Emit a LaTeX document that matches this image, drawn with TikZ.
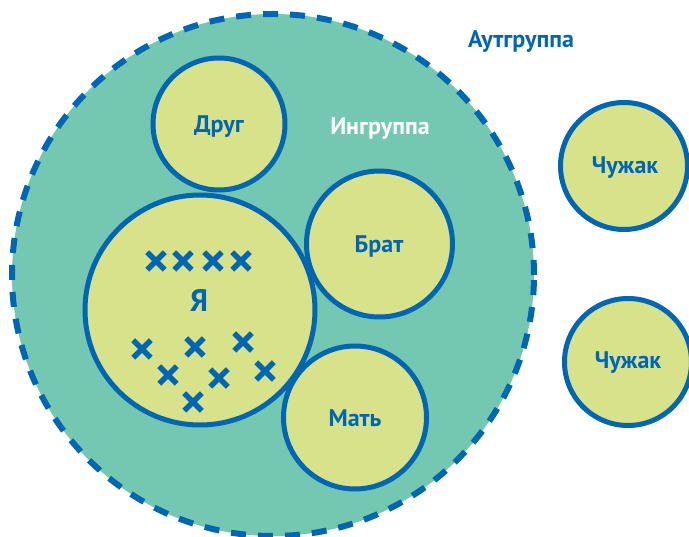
\documentclass[tikz,border=0pt]{standalone}
\usepackage{fontspec}
\setmainfont{PT Sans}
\usetikzlibrary{shapes.misc}
\definecolor{teal}{HTML}{74C8B1}
\definecolor{lgreen}{HTML}{D7E28B}
\definecolor{dblue}{HTML}{0066B2}
\tikzset{
  bubble/.style={circle, draw=dblue, fill=lgreen, line width=5pt, inner sep=0pt},
  lbl/.style={font=\bfseries\fontsize{24}{26}\selectfont, text=dblue},
  xmark/.style={cross out, draw=dblue, line width=5.5pt, minimum size=12pt, inner sep=0pt},
}
\begin{document}
\begin{tikzpicture}[x=1pt,y=-1pt]
\useasboundingbox (0,0) rectangle (689,537);
\begin{scope}
\clip (0,0) rectangle (689,537);
\node[circle, draw=dblue, fill=teal, line width=6pt, dash pattern=on 15pt off 12pt, minimum size=522pt, inner sep=0pt] (out) at (273,275) {};
\node[bubble, minimum size=132pt] (drug) at (219,124) {};
\node[bubble, minimum size=146pt] (brat) at (379.5,244) {};
\node[bubble, minimum size=230pt] (ya) at (200,310) {};
\node[bubble, minimum size=143pt] (mat) at (355,417.5) {};
\node[bubble, minimum size=127pt] (ch1) at (624,166) {};
\node[bubble, minimum size=127pt] (ch2) at (628,362) {};
\end{scope}
\node[lbl] at (219,127) {Друг};
\node[lbl] at (379,247) {Брат};
\node[lbl] at (355,418) {Мать};
\node[lbl, font=\bfseries\fontsize{31}{33}\selectfont] at (199,300) {Я};
\node[lbl] at (625,168) {Чужак};
\node[lbl] at (628,363) {Чужак};
\node[lbl, text=white] (in) at (380,129) {Ингруппа};
\node[lbl] (aut) at (521,42) {Аутгруппа};
\foreach \n/\x/\y in {a/156/261, b/183/261, c/213/261, d/241/261, e/142/349, f/195/347, g/243/342, h/168/375, i/219/378, j/265/371, k/193/402}
  \node[xmark] (x\n) at (\x,\y) {};
\end{tikzpicture}
\end{document}
